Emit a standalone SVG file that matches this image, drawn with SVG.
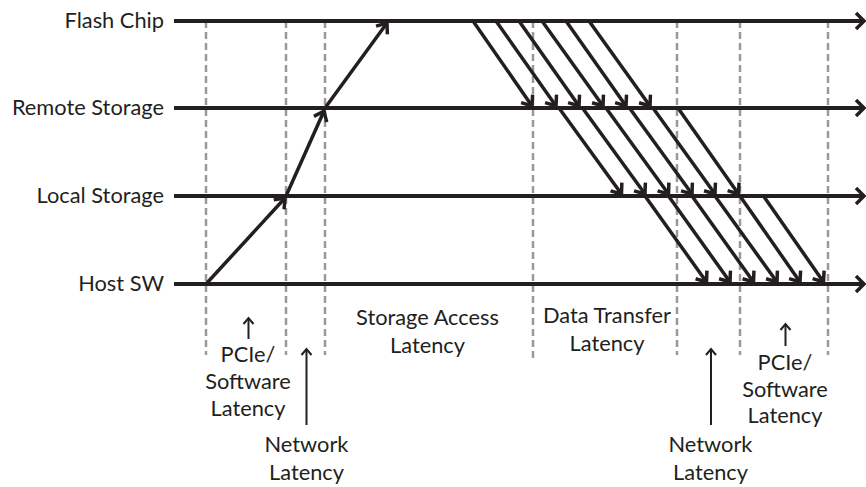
<svg xmlns="http://www.w3.org/2000/svg" width="866" height="487" viewBox="0 0 866 487">
<style>
  .lbl { font-family: Lato, "Liberation Sans", sans-serif; font-size: 21.8px; fill: #231f20; }
  .lane { stroke: #231f20; stroke-width: 4; fill: none; }
  .grid { stroke: #999999; stroke-width: 2.5; stroke-dasharray: 7 4; fill: none; }
  .msg { stroke: #231f20; stroke-width: 3.5; fill: none; }
  .note { stroke: #231f20; stroke-width: 2; fill: none; }
</style>
<defs>
  <marker id="ahLane" markerUnits="userSpaceOnUse" viewBox="0 0 20 20" refX="10" refY="10" markerWidth="20" markerHeight="20" orient="auto">
    <path d="M2,2 L10,10 L2,18" fill="none" stroke="#231f20" stroke-width="3.5"/>
  </marker>
  <marker id="ahMsg" markerUnits="userSpaceOnUse" viewBox="0 0 20 20" refX="10" refY="10" markerWidth="20" markerHeight="20" orient="auto">
    <path d="M1,3 L10,10 L1,17" fill="none" stroke="#231f20" stroke-width="3.5"/>
  </marker>
  <marker id="ahNote" markerUnits="userSpaceOnUse" viewBox="0 0 20 20" refX="10" refY="10" markerWidth="20" markerHeight="20" orient="auto">
    <path d="M4,5 L10,10 L4,15" fill="none" stroke="#231f20" stroke-width="2"/>
  </marker>
</defs>
<rect width="866" height="487" fill="#ffffff"/>

<g id="grid">
  <line class="grid" x1="206" y1="21" x2="206" y2="355"/>
  <line class="grid" x1="286" y1="21" x2="286" y2="355"/>
  <line class="grid" x1="325" y1="21" x2="325" y2="355"/>
  <line class="grid" x1="533" y1="21" x2="533" y2="362"/>
  <line class="grid" x1="677" y1="21" x2="677" y2="355"/>
  <line class="grid" x1="740" y1="21" x2="740" y2="355"/>
  <line class="grid" x1="828" y1="21" x2="828" y2="355"/>
</g>

<g id="lane-flash">
  <line class="lane" x1="174" y1="21" x2="864" y2="21" marker-end="url(#ahLane)"/>
  <text class="lbl" x="164" y="28" text-anchor="end">Flash Chip</text>
</g>
<g id="lane-remote">
  <line class="lane" x1="174" y1="108" x2="864" y2="108" marker-end="url(#ahLane)"/>
  <text class="lbl" x="164" y="115" text-anchor="end">Remote Storage</text>
</g>
<g id="lane-local">
  <line class="lane" x1="174" y1="196" x2="864" y2="196" marker-end="url(#ahLane)"/>
  <text class="lbl" x="164" y="203" text-anchor="end">Local Storage</text>
</g>
<g id="lane-host">
  <line class="lane" x1="174" y1="284" x2="864" y2="284" marker-end="url(#ahLane)"/>
  <text class="lbl" x="164" y="291" text-anchor="end">Host SW</text>
</g>

<g id="connectors">
  <line class="msg" x1="206" y1="284" x2="285" y2="198" marker-end="url(#ahMsg)"/>
  <line class="msg" x1="286" y1="196" x2="324" y2="111" marker-end="url(#ahMsg)"/>
  <line class="msg" x1="325" y1="108" x2="387" y2="23" marker-end="url(#ahMsg)"/>

  <line class="msg" x1="473" y1="21" x2="532" y2="106" marker-end="url(#ahMsg)"/>
  <line class="msg" x1="496" y1="21" x2="556" y2="106" marker-end="url(#ahMsg)"/>
  <line class="msg" x1="519" y1="21" x2="579" y2="106" marker-end="url(#ahMsg)"/>
  <line class="msg" x1="542" y1="21" x2="603" y2="106" marker-end="url(#ahMsg)"/>
  <line class="msg" x1="566" y1="21" x2="626" y2="106" marker-end="url(#ahMsg)"/>
  <line class="msg" x1="589" y1="21" x2="650" y2="106" marker-end="url(#ahMsg)"/>

  <line class="msg" x1="559" y1="108" x2="621.5" y2="194" marker-end="url(#ahMsg)"/>
  <line class="msg" x1="582.5" y1="108" x2="645" y2="194" marker-end="url(#ahMsg)"/>
  <line class="msg" x1="606" y1="108" x2="668.5" y2="194" marker-end="url(#ahMsg)"/>
  <line class="msg" x1="629.5" y1="108" x2="692" y2="194" marker-end="url(#ahMsg)"/>
  <line class="msg" x1="653" y1="108" x2="715" y2="194" marker-end="url(#ahMsg)"/>
  <line class="msg" x1="678" y1="108" x2="738.5" y2="194" marker-end="url(#ahMsg)"/>

  <line class="msg" x1="645" y1="196" x2="706.5" y2="282" marker-end="url(#ahMsg)"/>
  <line class="msg" x1="668.5" y1="196" x2="730" y2="282" marker-end="url(#ahMsg)"/>
  <line class="msg" x1="692" y1="196" x2="753.5" y2="282" marker-end="url(#ahMsg)"/>
  <line class="msg" x1="715" y1="196" x2="777" y2="282" marker-end="url(#ahMsg)"/>
  <line class="msg" x1="740" y1="196" x2="800" y2="282" marker-end="url(#ahMsg)"/>
  <line class="msg" x1="763.5" y1="196" x2="823.5" y2="282" marker-end="url(#ahMsg)"/>

  <line class="note" x1="248.5" y1="339" x2="248.5" y2="318" marker-end="url(#ahNote)"/>
  <line class="note" x1="306.5" y1="425" x2="306.5" y2="349" marker-end="url(#ahNote)"/>
  <line class="note" x1="711" y1="425" x2="711" y2="349" marker-end="url(#ahNote)"/>
  <line class="note" x1="785.5" y1="346" x2="785.5" y2="324" marker-end="url(#ahNote)"/>
</g>

<g id="label-pcie-left">
  <text class="lbl" text-anchor="middle"><tspan x="248" y="362">PCIe/</tspan><tspan x="248" y="389">Software</tspan><tspan x="248" y="416">Latency</tspan></text>
</g>
<g id="label-network-left">
  <text class="lbl" text-anchor="middle"><tspan x="306.5" y="452">Network</tspan><tspan x="306.5" y="480">Latency</tspan></text>
</g>
<g id="label-storage-access">
  <text class="lbl" text-anchor="middle"><tspan x="427.5" y="325">Storage Access</tspan><tspan x="427.5" y="353">Latency</tspan></text>
</g>
<g id="label-data-transfer">
  <text class="lbl" text-anchor="middle"><tspan x="607" y="323">Data Transfer</tspan><tspan x="607" y="351">Latency</tspan></text>
</g>
<g id="label-network-right">
  <text class="lbl" text-anchor="middle"><tspan x="710.5" y="452">Network</tspan><tspan x="710.5" y="480">Latency</tspan></text>
</g>
<g id="label-pcie-right">
  <text class="lbl" text-anchor="middle"><tspan x="785" y="370">PCIe/</tspan><tspan x="785" y="397">Software</tspan><tspan x="785" y="423">Latency</tspan></text>
</g>
</svg>
